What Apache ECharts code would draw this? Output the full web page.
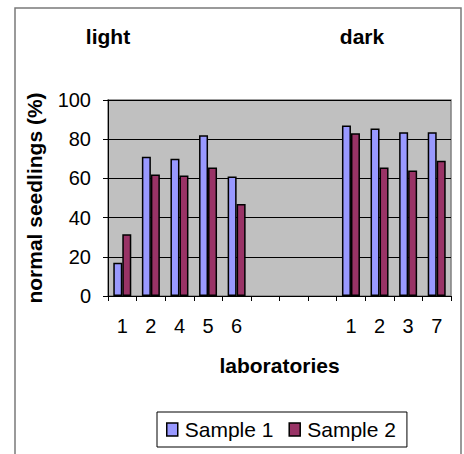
<!DOCTYPE html>
<html>
<head>
<meta charset="utf-8">
<script src="https://cdn.jsdelivr.net/npm/echarts@6/dist/echarts.min.js"></script>
<style>
html,body{margin:0;padding:0;background:#fff;}
#c{width:464px;height:454px;}
</style>
</head>
<body>
<div id="c"></div>
<script>
var categories = ['1', '2', '4', '5', '6', '', '', '', '1', '2', '3', '7'];
var sample1 = [17, 71, 70, 82, 61, null, null, null, 87, 85.5, 83.5, 83.5];
var sample2 = [31.5, 62, 61.5, 65.5, 47, null, null, null, 83, 65.5, 64, 69];
var yTicks = [0, 20, 40, 60, 80, 100];
var groupLabels = ['light', 'dark'];

var FONT = 'Liberation Sans, Arial, sans-serif';
var chart = echarts.init(document.getElementById('c'), null, {renderer: 'svg'});
chart.setOption({
  animation: false,
  backgroundColor: '#ffffff',
  title: [
    {text: groupLabels[0], left: 103, top: 21, textAlign: 'center',
     textStyle: {fontFamily: FONT, fontSize: 21, fontWeight: 'bold', color: '#000'}},
    {text: groupLabels[1], left: 357, top: 21, textAlign: 'center',
     textStyle: {fontFamily: FONT, fontSize: 21, fontWeight: 'bold', color: '#000'}}
  ],
  graphic: [{
    type: 'rect', silent: true, z: -10,
    shape: {x: 15, y: 8, width: 446, height: 460},
    style: {fill: 'none', stroke: '#7a7a7a', lineWidth: 1.5}
  }],
  grid: {
    left: 108, top: 100, right: 13, bottom: 158,
    show: true, backgroundColor: '#C0C0C0', borderColor: '#808080', borderWidth: 1.5
  },
  legend: {
    data: ['Sample 1', 'Sample 2'],
    left: 157, top: 412,
    orient: 'horizontal',
    backgroundColor: '#fff',
    borderColor: '#000', borderWidth: 1,
    padding: [7, 11, 7, 9],
    icon: 'rect',
    itemWidth: 11, itemHeight: 13, itemGap: 15,
    textStyle: {fontFamily: FONT, fontSize: 21, color: '#000', padding: [0, 0, 0, 2]},
    itemStyle: {borderColor: '#000', borderWidth: 1.5}
  },
  xAxis: {
    type: 'category',
    data: categories,
    name: 'laboratories',
    nameLocation: 'middle',
    nameGap: 59,
    nameTextStyle: {fontFamily: FONT, fontSize: 21, fontWeight: 'bold', color: '#000'},
    axisLine: {lineStyle: {color: '#000', width: 1}},
    axisTick: {show: true, length: 5, lineStyle: {color: '#000'}},
    axisLabel: {fontFamily: FONT, fontSize: 20, color: '#000', margin: 20, interval: 0},
    splitLine: {show: false}
  },
  yAxis: {
    type: 'value',
    min: 0, max: 100, interval: 20,
    name: 'normal seedlings (%)',
    nameLocation: 'middle',
    nameGap: 63,
    nameTextStyle: {fontFamily: FONT, fontSize: 21, fontWeight: 'bold', color: '#000'},
    axisLine: {show: true, lineStyle: {color: '#000', width: 1}},
    axisTick: {show: true, length: 5, lineStyle: {color: '#000'}},
    axisLabel: {fontFamily: FONT, fontSize: 20, color: '#000', margin: 17,
      formatter: function (v) { return yTicks.indexOf(v) >= 0 ? String(v) : ''; }},
    splitLine: {show: true, lineStyle: {color: '#000', width: 1}}
  },
  series: [
    {name: 'Sample 1', type: 'bar', data: sample1, barWidth: 9, barGap: '0%',
     itemStyle: {color: '#9999FF', borderColor: '#000', borderWidth: 1.5}},
    {name: 'Sample 2', type: 'bar', data: sample2, barWidth: 9, barGap: '0%',
     itemStyle: {color: '#993366', borderColor: '#000', borderWidth: 1.5}}
  ]
});
</script>
</body>
</html>
